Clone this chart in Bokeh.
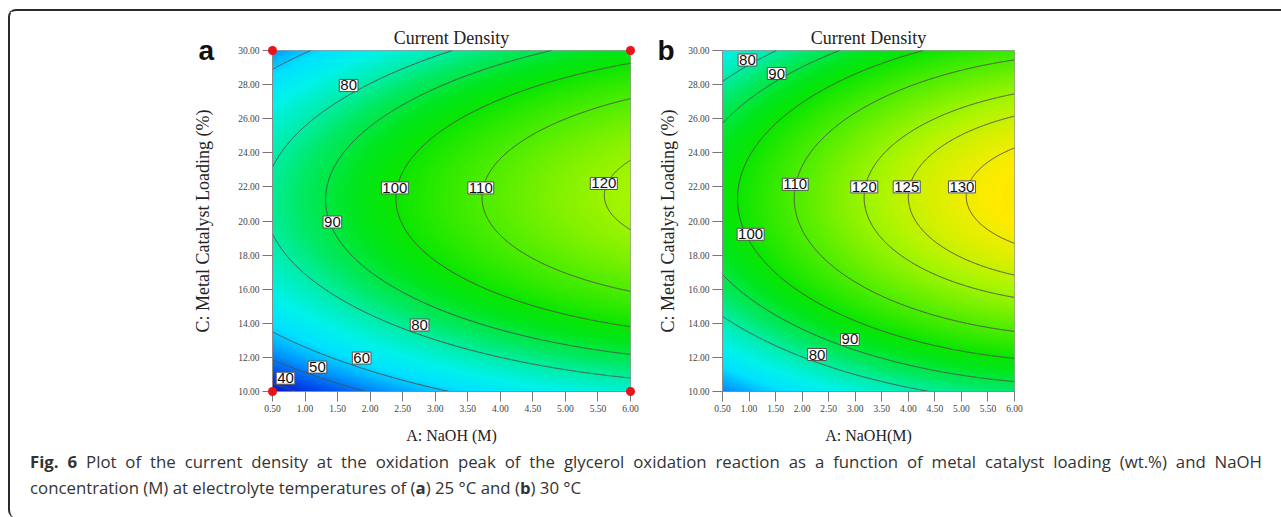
import numpy as np
from bokeh.plotting import figure
from bokeh.models import Range1d, FixedTicker, LinearColorMapper, ColumnDataSource, Div
from bokeh.layouts import row, column
from bokeh.embed import file_html
from bokeh.resources import INLINE
from bokeh.core.properties import value

# ---------------- data ----------------
x_ticks = [0.5, 1.0, 1.5, 2.0, 2.5, 3.0, 3.5, 4.0, 4.5, 5.0, 5.5, 6.0]
x_tick_labels = ["0.50", "1.00", "1.50", "2.00", "2.50", "3.00", "3.50", "4.00", "4.50", "5.00", "5.50", "6.00"]
y_ticks = [10, 12, 14, 16, 18, 20, 22, 24, 26, 28, 30]
y_tick_labels = ["10.00", "12.00", "14.00", "16.00", "18.00", "20.00", "22.00", "24.00", "26.00", "28.00", "30.00"]

# quadratic response-surface model: [b0, bA, bC, bAC, bAA, bCC]
coef_a = [-85.67, 10.94, 15.24, 0.0432, -0.7027, -0.36]   # 25 C
coef_b = [-71.39, 10.774, 15.32, 0.0252, -0.7404, -0.36]  # 30 C

levels_a = [40, 50, 60, 80, 90, 100, 110, 120]
levels_b = [80, 90, 100, 110, 120, 125, 130]

lab_a_A = [1.67, 2.38, 3.70, 5.59, 1.42, 2.76, 1.87, 1.19, 0.70]
lab_a_C = [27.95, 21.94, 21.94, 22.2, 19.94, 13.9, 11.96, 11.43, 10.78]
lab_a_text = ["80", "100", "110", "120", "90", "80", "60", "50", "40"]

lab_b_A = [0.97, 1.52, 1.87, 3.17, 3.97, 5.01, 1.03, 2.90, 2.28]
lab_b_C = [29.44, 28.65, 22.15, 22.0, 22.0, 22.0, 19.22, 13.05, 12.17]
lab_b_text = ["80", "90", "110", "120", "125", "130", "100", "90", "80"]

design_A = [0.5, 0.5, 6.0, 6.0]
design_C = [10.0, 30.0, 10.0, 30.0]

title_text = "Current Density"
x_label_a = "A: NaOH (M)"
x_label_b = "A: NaOH(M)"
y_label = "C: Metal Catalyst Loading (%)"
caption_line1 = ('<b>Fig. 6</b> Plot of the current density at the oxidation peak of the glycerol oxidation '
                 'reaction as a function of metal catalyst loading (wt.%) and NaOH')
caption_line2 = 'concentration (M) at electrolyte temperatures of (<b>a</b>) 25 °C and (<b>b</b>) 30 °C'

# ---------------- styling ----------------
stop_v = [30, 38, 46, 54, 62, 70, 78, 86, 94, 100, 112, 122, 132, 150]
stop_rgb = [(0, 0, 185), (0, 35, 215), (0, 90, 240), (0, 160, 255), (0, 225, 255), (0, 242, 235),
            (0, 238, 180), (0, 233, 100), (0, 230, 30), (10, 230, 0), (90, 238, 0), (170, 245, 0),
            (255, 235, 0), (255, 150, 0)]
_vals = np.linspace(30, 150, 256)
palette = ["#%02x%02x%02x" % tuple(int(round(np.interp(v, stop_v, [c[i] for c in stop_rgb]))) for i in range(3))
           for v in _vals]
mapper = LinearColorMapper(palette=palette, low=30, high=150)

SERIF = "Liberation Serif"
SANS = "Liberation Sans"


def surface(coef, A, C):
    b0, bA, bC, bAC, bAA, bCC = coef
    return b0 + bA * A + bC * C + bAC * A * C + bAA * A ** 2 + bCC * C ** 2


def make_panel(coef, levels, lab_A, lab_C, lab_text, letter, xlab, width, mb_left, mb_right,
               ylab_standoff, letter_dx, show_design):
    p = figure(width=width, height=435, output_backend="svg", toolbar_location=None,
               x_range=Range1d(x_ticks[0], x_ticks[-1]), y_range=Range1d(y_ticks[0], y_ticks[-1]),
               min_border_left=mb_left, min_border_right=mb_right, min_border_top=39, min_border_bottom=55,
               background_fill_color="white", border_fill_color="white")
    p.grid.visible = False
    p.outline_line_color = "#9a9a9a"
    p.outline_line_width = 1
    frame_w = width - mb_left - mb_right

    nx, ny = 360, 342
    A = np.linspace(x_ticks[0], x_ticks[-1], nx)
    C = np.linspace(y_ticks[0], y_ticks[-1], ny)
    AA, CC = np.meshgrid(A, C)
    Z = surface(coef, AA, CC)
    p.image(image=[Z], x=x_ticks[0], y=y_ticks[0], dw=x_ticks[-1] - x_ticks[0], dh=y_ticks[-1] - y_ticks[0],
            color_mapper=mapper)
    p.contour(x=A, y=C, z=Z, levels=levels, line_color="#505050", line_width=1)

    src = ColumnDataSource(dict(A=lab_A, C=lab_C, t=lab_text))
    p.text(x="A", y="C", text="t", source=src, text_align="center", text_baseline="middle",
           text_font=value(SANS), text_font_size="15px", text_color="#111111",
           background_fill_color="white", border_line_color="#555555", border_line_width=1, padding=1)

    if show_design:
        p.scatter(x=design_A, y=design_C, size=9, fill_color="#e8141c", line_color=None, level="overlay")

    # panel letter just outside the upper-left corner of the frame
    px_x = (x_ticks[-1] - x_ticks[0]) / frame_w
    p.text(x=[x_ticks[0] - letter_dx * px_x], y=[y_ticks[-1]], text=[letter], text_font=value(SANS),
           text_font_style="bold", text_font_size="28px", text_color="#111111", text_align="left",
           text_baseline="alphabetic", level="overlay")

    for ax, ticks, labs in ((p.xaxis[0], x_ticks, x_tick_labels), (p.yaxis[0], y_ticks, y_tick_labels)):
        ax.ticker = FixedTicker(ticks=ticks)
        ax.major_label_overrides = {t: l for t, l in zip(ticks, labs)}
        ax.major_label_text_font = SERIF
        ax.major_label_text_font_size = "9.5px"
        ax.major_label_text_color = "#444444"
        ax.major_tick_out = 10
        ax.major_tick_in = 0
        ax.minor_tick_out = 0
        ax.major_tick_line_color = "#777777"
        ax.axis_line_color = "#8a8a8a"
        ax.major_label_standoff = 3
        ax.axis_label_text_font = SERIF
        ax.axis_label_text_font_style = "normal"
        ax.axis_label_text_color = "#222222"
    p.xaxis.axis_label = xlab
    p.xaxis.axis_label_text_font_size = "16px"
    p.xaxis.axis_label_standoff = 12
    p.yaxis.axis_label = y_label
    p.yaxis.axis_label_text_font_size = "18px"
    p.yaxis.axis_label_standoff = ylab_standoff

    p.title.text = title_text
    p.title.align = "center"
    p.title.text_font = SERIF
    p.title.text_font_size = "18px"
    p.title.text_font_style = "normal"
    p.title.text_color = "#222222"
    p.title.standoff = 5
    return p


pa = make_panel(coef_a, levels_a, lab_a_A, lab_a_C, lab_a_text, "a", x_label_a, 630, 262, 10, 22, 74, True)
pb = make_panel(coef_b, levels_b, lab_b_A, lab_b_C, lab_b_text, "b", x_label_b, 641, 82, 267, 7, 65, False)

caption = Div(
    text=('<div style="width:1232px; text-align:justify; text-align-last:justify; white-space:normal">'
          + caption_line1 + '</div><div style="white-space:nowrap">' + caption_line2 + '</div>'),
    width=1250, height=64,
    styles={"font-family": "Open Sans", "font-size": "16.8px", "color": "#333333",
            "line-height": "26px", "margin-left": "20px", "margin-top": "3px"})

layout = column(row(pa, pb), caption, margin=(9, 0, 0, 8),
                styles={"border-top": "2px solid #2a2a2a", "border-left": "2px solid #2a2a2a",
                        "border-top-left-radius": "8px", "border-bottom-left-radius": "8px"})

open("out.html", "w").write(file_html(layout, INLINE))
